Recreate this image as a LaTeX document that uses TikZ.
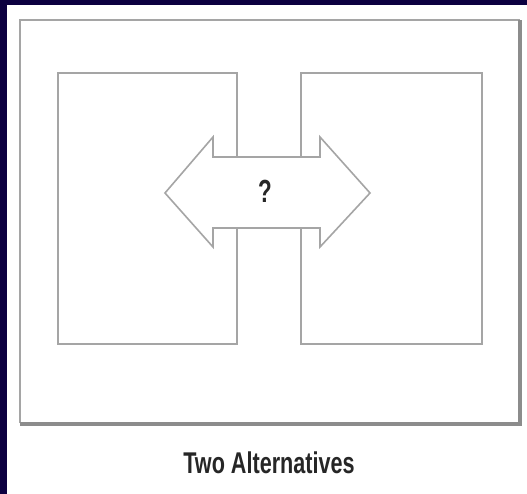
\documentclass[tikz,border=0pt]{standalone}
\usepackage{fontspec}
\setmainfont{Liberation Sans}
\definecolor{bgblue}{RGB}{12,0,64}
\definecolor{linegray}{RGB}{165,165,165}
\definecolor{shadegray}{RGB}{140,140,140}
\begin{document}
\begin{tikzpicture}[x=1pt,y=-1pt,
  boxline/.style={draw=linegray,line width=1.6pt},
  labeltext/.style={font=\bfseries\fontsize{30}{30}\selectfont,inner sep=0pt,text=black!85}]
\useasboundingbox (0,0) rectangle (527,494);
\fill[white] (0,0) rectangle (527,494);
\fill[bgblue] (0,0) rectangle (7,494);
\fill[bgblue] (0,0) rectangle (527,5);
% outer frame
\draw[boxline] (20,423) -- (20,20) -- (520,20);
\draw[draw=shadegray,line width=4pt] (20,424) -- (520,424) -- (520,20);
% two boxes
\node[boxline,minimum width=179pt,minimum height=271pt,inner sep=0pt,anchor=north west] (left) at (57,72) {};
\node[boxline,minimum width=181pt,minimum height=271pt,inner sep=0pt,anchor=north west] (right) at (300,72) {};
% double arrow
\draw[boxline,fill=white,line join=miter]
  (165,193) -- (213,137) -- (213,157) -- (320,157) -- (320,137) -- (370,193)
  -- (320,247) -- (320,228) -- (213,228) -- (213,247) -- cycle;
\node[labeltext,font=\bfseries\fontsize{32}{32}\selectfont] (q) at (265,191) {\scalebox{0.7}[1]{?}};
\node[labeltext,anchor=base] (cap) at (269,473) {\scalebox{0.72}[1]{Two Alternatives}};
\end{tikzpicture}
\end{document}
